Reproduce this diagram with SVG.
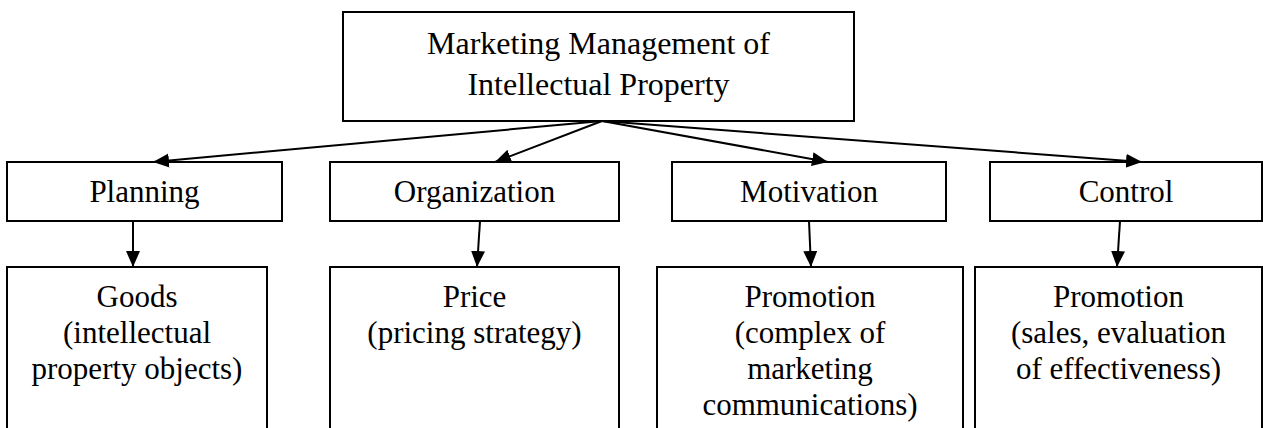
<svg xmlns="http://www.w3.org/2000/svg" width="1263" height="428" viewBox="0 0 1263 428">
  <style>
    .box { fill: #ffffff; stroke: #000000; stroke-width: 2; }
    .lbl { font-family: "Liberation Serif", "Times New Roman", serif; font-size: 31px; fill: #000000; text-anchor: middle; }
    .title { font-size: 32px; }
    .link { stroke: #000000; stroke-width: 2; fill: none; marker-end: url(#head); }
  </style>
  <defs>
    <marker id="head" markerUnits="userSpaceOnUse" markerWidth="17" markerHeight="15" refX="16" refY="7" orient="auto">
      <path d="M0,0 L16,7 L0,14 z" fill="#000000"/>
    </marker>
  </defs>
  <rect width="1263" height="428" fill="#ffffff"/>

  <!-- root -->
  <g id="node-root">
    <rect class="box" x="343" y="12" width="511" height="109"/>
    <text class="lbl title" x="598.5" y="54">Marketing Management of</text>
    <text class="lbl title" x="598.5" y="95">Intellectual Property</text>
  </g>

  <!-- management functions -->
  <g id="node-planning">
    <rect class="box" x="7" y="162" width="275" height="59"/>
    <text class="lbl" x="144.5" y="202">Planning</text>
  </g>
  <g id="node-organization">
    <rect class="box" x="330" y="162" width="289" height="59"/>
    <text class="lbl" x="474.5" y="202">Organization</text>
  </g>
  <g id="node-motivation">
    <rect class="box" x="672" y="162" width="274" height="59"/>
    <text class="lbl" x="809" y="202">Motivation</text>
  </g>
  <g id="node-control">
    <rect class="box" x="990" y="162" width="272" height="59"/>
    <text class="lbl" x="1126" y="202">Control</text>
  </g>

  <!-- marketing mix elements -->
  <g id="node-goods">
    <rect class="box" x="7" y="267" width="260" height="180"/>
    <text class="lbl" x="137" y="307">Goods</text>
    <text class="lbl" x="137" y="343">(intellectual</text>
    <text class="lbl" x="137" y="379">property objects)</text>
  </g>
  <g id="node-price">
    <rect class="box" x="330" y="267" width="289" height="180"/>
    <text class="lbl" x="474.5" y="307">Price</text>
    <text class="lbl" x="474.5" y="343">(pricing strategy)</text>
  </g>
  <g id="node-promotion-communications">
    <rect class="box" x="657" y="267" width="306" height="180"/>
    <text class="lbl" x="810" y="307">Promotion</text>
    <text class="lbl" x="810" y="343">(complex of</text>
    <text class="lbl" x="810" y="379">marketing</text>
    <text class="lbl" x="810" y="415">communications)</text>
  </g>
  <g id="node-promotion-sales">
    <rect class="box" x="975" y="267" width="287" height="180"/>
    <text class="lbl" x="1118.5" y="307">Promotion</text>
    <text class="lbl" x="1118.5" y="343">(sales, evaluation</text>
    <text class="lbl" x="1118.5" y="379">of effectiveness)</text>
  </g>

  <!-- connectors -->
  <g id="connectors">
    <line class="link" x1="602" y1="121" x2="153" y2="162"/>
    <line class="link" x1="602" y1="121" x2="495" y2="162"/>
    <line class="link" x1="602" y1="121" x2="828" y2="162"/>
    <line class="link" x1="602" y1="121" x2="1142" y2="162"/>
    <line class="link" x1="133" y1="221" x2="133" y2="267"/>
    <line class="link" x1="480" y1="221" x2="477" y2="267"/>
    <line class="link" x1="809" y1="221" x2="811" y2="267"/>
    <line class="link" x1="1120" y1="221" x2="1117" y2="267"/>
  </g>
</svg>
